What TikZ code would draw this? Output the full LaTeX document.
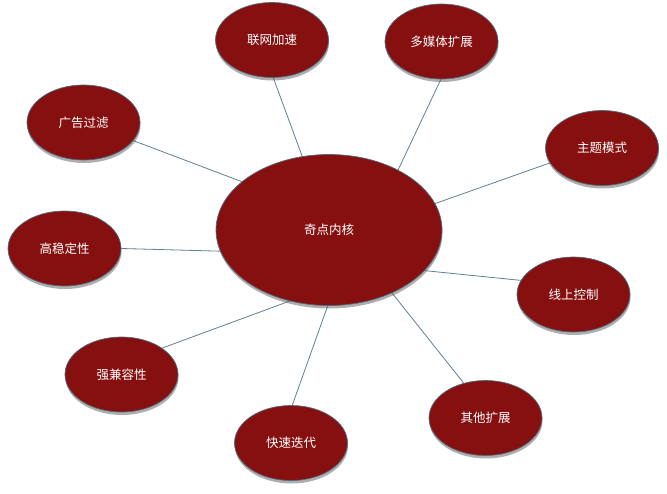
\documentclass[tikz,border=0pt]{standalone}
\usepackage{fontspec}
\newfontfamily\cjk{Noto Sans CJK SC}
\usepackage{tikz}
\usetikzlibrary{shapes.geometric,shadows,backgrounds}
\definecolor{kernred}{RGB}{134,16,16}
\definecolor{rimblue}{RGB}{80,108,128}
\definecolor{spokeblue}{RGB}{96,128,148}

\begin{document}
\begin{tikzpicture}[
  x=1pt, y=-1pt,
  hub/.style={ellipse, draw=rimblue, line width=0.7pt, fill=kernred, text=white,
    minimum width=226pt, minimum height=151pt, font=\cjk\fontsize{12.5}{15}\selectfont,
    drop shadow={shadow xshift=0.5pt, shadow yshift=-3pt, opacity=0.45, fill=black!70}},
  leaf/.style={hub, minimum width=113pt, minimum height=75pt},
  spoke/.style={draw=spokeblue, line width=0.8pt}
]
\useasboundingbox (0,0) rectangle (667,493);

% Centre
\node[hub] (core) at (329,230) {奇点内核};

% Ring of features
\node[leaf] (net)   at (272,40)      {联网加速};
\node[leaf] (media) at (441.5,41.5)  {多媒体扩展};
\node[leaf] (theme) at (602,148)     {主题模式};
\node[leaf] (online) at (573.5,294.5) {线上控制};
\node[leaf] (other) at (485.5,418)   {其他扩展};
\node[leaf] (iter)  at (291,443)     {快速迭代};
\node[leaf] (compat) at (121.5,374.5) {强兼容性};
\node[leaf] (stable) at (64.5,248.5) {高稳定性};
\node[leaf] (adblock) at (83.5,122.5) {广告过滤};

% Spokes
\begin{scope}[on background layer]
\draw[spoke] (core.110)  -- (net.-88);
\draw[spoke] (core.41)   -- (media.-91);
\draw[spoke] (core.14.5) -- (theme.196);
\draw[spoke] (core.-23.6) -- (online.165);
\draw[spoke] (core.-45)  -- (other.122);
\draw[spoke] (core.-91)  -- (iter.88.5);
\draw[spoke] (core.-119) -- (compat.33);
\draw[spoke] (core.191.4) -- (stable.0);
\draw[spoke] (core.151)  -- (adblock.-20);
\end{scope}

\end{tikzpicture}
\end{document}
